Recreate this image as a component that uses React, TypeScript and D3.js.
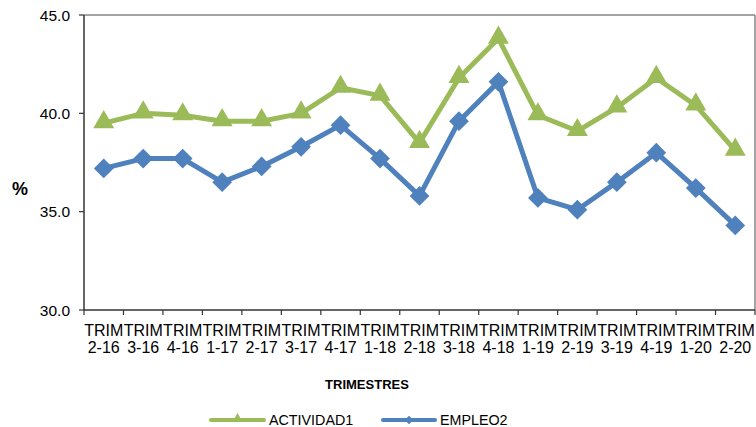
import React from "react";
import * as d3 from "d3";

const categories = ["2-16","3-16","4-16","1-17","2-17","3-17","4-17","1-18","2-18","3-18","4-18","1-19","2-19","3-19","4-19","1-20","2-20"];
const actividad = [39.5,40.0,39.9,39.6,39.6,40.0,41.3,40.9,38.5,41.8,43.8,39.9,39.1,40.3,41.8,40.4,38.1];
const empleo = [37.2,37.7,37.7,36.5,37.3,38.3,39.4,37.7,35.8,39.6,41.6,35.7,35.1,36.5,38.0,36.2,34.3];
const yTicks = [30, 35, 40, 45];

const W = 756, H = 427;
const L = 84, R = 755, T = 15, B = 310;
const GREEN = "#9BBB59", BLUE = "#4F81BD";
const FONT = "'Liberation Sans', Arial, sans-serif";

export default function App() {
  const x = d3.scaleBand<string>().domain(categories).range([L, R]);
  const y = d3.scaleLinear().domain([30, 45]).range([B, T]);
  const cx = (c: string) => (x(c) as number) + x.bandwidth() / 2;
  const line = d3.line<number>().x((_, i) => cx(categories[i])).y((v) => y(v));
  const tri = d3.symbol().type(d3.symbolTriangle).size(190)();
  const dia = d3.symbol().type(d3.symbolSquare).size(195)();
  const triSmall = d3.symbol().type(d3.symbolTriangle).size(45)();
  const diaSmall = d3.symbol().type(d3.symbolSquare).size(36)();
  const bounds = [...categories.map((c) => x(c) as number), R];

  return (
    <svg width={W} height={H} style={{ position: "absolute", left: 0, top: 0, fontFamily: FONT }}>
      <rect x={0} y={0} width={W} height={H} fill="#fff" />
      {/* frame */}
      <line x1={L} x2={R} y1={T} y2={T} stroke="#868686" strokeWidth={1.5} />
      <line x1={R} x2={R} y1={T} y2={B} stroke="#868686" strokeWidth={1.5} />
      <line x1={L} x2={L} y1={T} y2={B} stroke="#333" strokeWidth={1.5} />
      <line x1={L} x2={R} y1={B} y2={B} stroke="#333" strokeWidth={1.5} />
      {yTicks.map((t) => (
        <g key={t}>
          <line x1={L - 5} x2={L} y1={y(t)} y2={y(t)} stroke="#333" strokeWidth={1.2} />
          <text x={L - 14} y={y(t) + 5.5} textAnchor="end" fontSize={15.5} fill="#000">{t.toFixed(1)}</text>
        </g>
      ))}
      {bounds.map((b, i) => (
        <line key={i} x1={b} x2={b} y1={B} y2={B + 5} stroke="#333" strokeWidth={1.2} />
      ))}
      {categories.map((c) => (
        <text key={c} x={cx(c)} textAnchor="middle" fontSize={16} fill="#000">
          <tspan x={cx(c)} y={336}>TRIM</tspan>
          <tspan x={cx(c)} y={353}>{c}</tspan>
        </text>
      ))}
      <text x={20} y={195} textAnchor="middle" fontSize={18} fontWeight="bold">%</text>
      <text x={367} y={389} textAnchor="middle" fontSize={13} fontWeight="bold">TRIMESTRES</text>

      <path d={line(actividad) || ""} fill="none" stroke={GREEN} strokeWidth={5} strokeLinejoin="round" />
      {actividad.map((v, i) => (
        <path key={i} d={tri || ""} transform={`translate(${cx(categories[i])},${y(v) - 1})`} fill={GREEN} />
      ))}
      <path d={line(empleo) || ""} fill="none" stroke={BLUE} strokeWidth={5} strokeLinejoin="round" />
      {empleo.map((v, i) => (
        <path key={i} d={dia || ""} transform={`translate(${cx(categories[i])},${y(v)}) rotate(45)`} fill={BLUE} />
      ))}

      {/* legend */}
      <line x1={211} x2={264} y1={420} y2={420} stroke={GREEN} strokeWidth={4} strokeLinecap="round" />
      <path d={triSmall || ""} transform="translate(237.5,419)" fill={GREEN} />
      <text x={269} y={425} fontSize={14.3}>ACTIVIDAD1</text>
      <line x1={383} x2={435} y1={420} y2={420} stroke={BLUE} strokeWidth={4} strokeLinecap="round" />
      <path d={diaSmall || ""} transform="translate(409,420) rotate(45)" fill={BLUE} />
      <text x={440} y={425} fontSize={14.3}>EMPLEO2</text>
    </svg>
  );
}
